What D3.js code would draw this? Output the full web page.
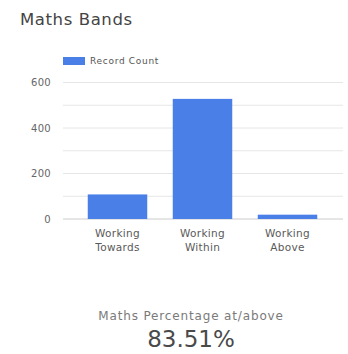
<!DOCTYPE html>
<html>
<head>
<meta charset="utf-8">
<script src="https://cdn.jsdelivr.net/npm/d3@7"></script>
<style>
  body { margin: 0; background: #fff; }
  text { font-family: "DejaVu Sans", sans-serif; }
</style>
</head>
<body>
<script>
// data
var categories = [["Working", "Towards"], ["Working", "Within"], ["Working", "Above"]];
var recordCount = [108, 528, 19];
var yTicks = [0, 200, 400, 600];
var gridTicks = [0, 100, 200, 300, 400, 500, 600];
var seriesName = "Record Count";
var summaryLabel = "Maths Percentage at/above";

var w = 348, h = 354;
var svg = d3.select("body").append("svg")
    .attr("width", w)
    .attr("height", h);

// title
svg.append("text")
    .attr("x", 20).attr("y", 25)
    .attr("font-size", 16.5)
    .attr("letter-spacing", 0.6)
    .attr("fill", "#444")
    .text("Maths Bands");

// legend
svg.append("rect")
    .attr("x", 63).attr("y", 57)
    .attr("width", 22).attr("height", 8)
    .attr("fill", "#4a7fe8");
svg.append("text")
    .attr("x", 90).attr("y", 64)
    .attr("font-size", 9)
    .attr("letter-spacing", 0.7)
    .attr("fill", "#555")
    .text(seriesName);

var y = d3.scaleLinear().domain([0, 600]).range([219, 82.5]);
var x = d3.scaleBand()
    .domain(d3.range(categories.length))
    .range([75, 330])
    .paddingInner(0.3)
    .paddingOuter(0.15);

// gridlines
svg.selectAll(".grid")
    .data(gridTicks)
    .enter()
    .append("line")
    .attr("x1", 63).attr("x2", 343)
    .attr("y1", function(d) { return y(d); })
    .attr("y2", function(d) { return y(d); })
    .attr("stroke", function(d) { return d === 0 ? "#ccc" : "#e6e6e6"; })
    .attr("stroke-width", 1);

// y tick labels
svg.selectAll(".ylab")
    .data(yTicks)
    .enter()
    .append("text")
    .attr("x", 51)
    .attr("y", function(d) { return y(d) + 3.5; })
    .attr("text-anchor", "end")
    .attr("font-size", 10)
    .attr("letter-spacing", 0.3)
    .attr("fill", "#666")
    .text(function(d) { return d; });

// bars
svg.selectAll(".bar")
    .data(recordCount)
    .enter()
    .append("rect")
    .attr("x", function(d, i) { return x(i); })
    .attr("y", function(d) { return y(d); })
    .attr("width", x.bandwidth())
    .attr("height", function(d) { return y(0) - y(d); })
    .attr("fill", "#4a7fe8");

// x labels
var xl = svg.selectAll(".xlab")
    .data(categories)
    .enter()
    .append("text")
    .attr("text-anchor", "middle")
    .attr("font-size", 10.5)
    .attr("letter-spacing", 0.3)
    .attr("fill", "#5a5a5a");
xl.each(function(d, i) {
    var t = d3.select(this);
    d.forEach(function(line, j) {
        t.append("tspan")
            .attr("x", x(i) + x.bandwidth() / 2)
            .attr("y", 237 + j * 14)
            .text(line);
    });
});

// summary
var total = d3.sum(recordCount);
var pct = (recordCount[1] + recordCount[2]) / total * 100;
svg.append("text")
    .attr("x", 191).attr("y", 320)
    .attr("text-anchor", "middle")
    .attr("font-size", 12)
    .attr("letter-spacing", 0.85)
    .attr("fill", "#7a7a7a")
    .text(summaryLabel);
svg.append("text")
    .attr("x", 191).attr("y", 347)
    .attr("text-anchor", "middle")
    .attr("font-size", 23)
    .attr("fill", "#4a4a4a")
    .text(pct.toFixed(2) + "%");
</script>
</body>
</html>
